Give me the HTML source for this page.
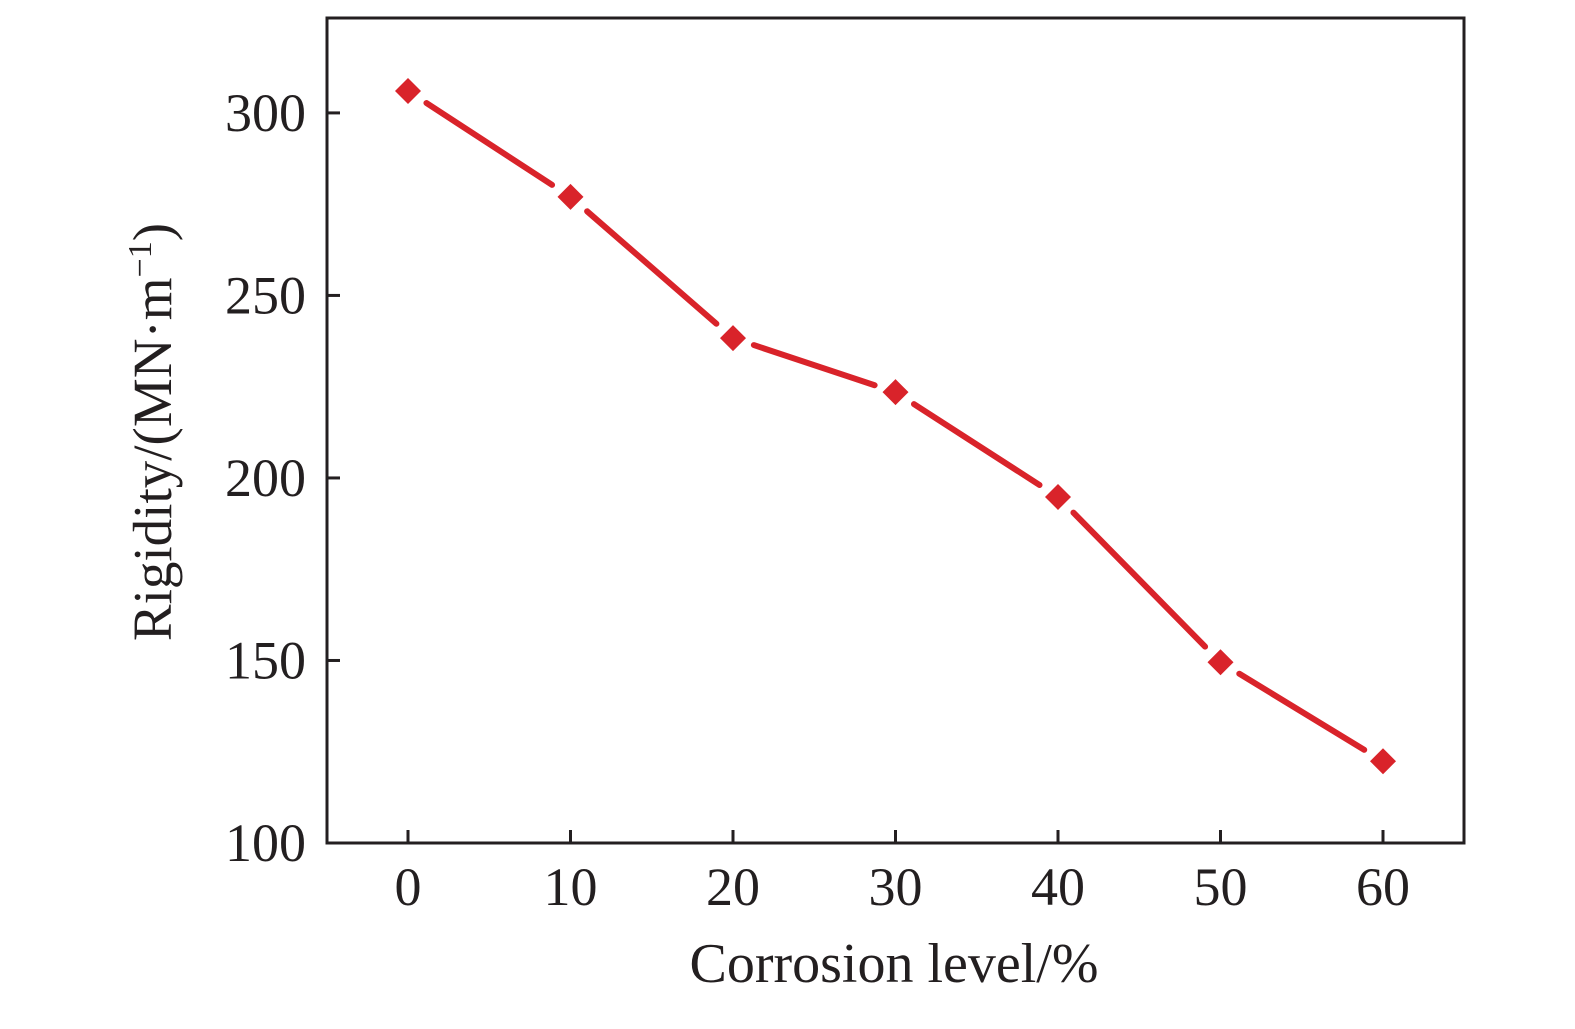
<!DOCTYPE html>
<html><head><meta charset="utf-8"><style>
html,body{margin:0;padding:0;background:#fff;}
svg text{font-family:"Liberation Serif",serif;fill:#231f20;}
</style></head><body>
<svg id="chart" width="1575" height="1024" viewBox="0 0 1575 1024" xmlns="http://www.w3.org/2000/svg">
<g id="grid"></g>
</svg>
<script>
const categories=[0,10,20,30,40,50,60];
const rigidity=[306,277,238.3,223.5,194.8,149.5,122.4];
const xTicks=[0,10,20,30,40,50,60];
const yTicks=[100,150,200,250,300];
const L=327,R=1464,T=18,B=843;
const yMin=100,yMax=326;
function xs(v){return 408+(v-0)*16.25;}
function ys(v){return B-(v-yMin)*(B-T)/(yMax-yMin);}
const NS='http://www.w3.org/2000/svg';
const svg=document.getElementById('chart');
function mk(t,a,p){const e=document.createElementNS(NS,t);for(const k in a)e.setAttribute(k,a[k]);(p||svg).appendChild(e);return e;}
const frame=mk('rect',{x:L,y:T,width:R-L,height:B-T,fill:'none',stroke:'#231f20','stroke-width':3});


xTicks.forEach(v=>{
 const t=mk('line',{x1:xs(v),x2:xs(v),y1:B,y2:B-13,stroke:'#231f20','stroke-width':3});
 
 
 const l=mk('text',{x:xs(v),y:B+62,'text-anchor':'middle','font-size':54});
 l.textContent=v;
 
 
});
yTicks.forEach(v=>{
 const t=mk('line',{x1:L,x2:L+13,y1:ys(v),y2:ys(v),stroke:'#231f20','stroke-width':3});
 
 
 const l=mk('text',{x:306,y:ys(v)+18,'text-anchor':'end','font-size':54});
 l.textContent=v;
 
 
});
const xt=mk('text',{x:894,y:982,'text-anchor':'middle','font-size':56});
xt.textContent='Corrosion level/%';


const yt=mk('text',{x:0,y:0,'text-anchor':'middle','font-size':55,transform:'translate(171,432) rotate(-90)'});
yt.innerHTML='Rigidity/(MN·m<tspan dy="-20" font-size="34">−1</tspan><tspan dy="20">)</tspan>';


const gap=22;
for(let i=0;i<categories.length-1;i++){
 const x1=xs(categories[i]),y1=ys(rigidity[i]),x2=xs(categories[i+1]),y2=ys(rigidity[i+1]);
 const d=Math.hypot(x2-x1,y2-y1),ux=(x2-x1)/d,uy=(y2-y1)/d;
 const s=mk('line',{x1:x1+ux*gap,y1:y1+uy*gap,x2:x2-ux*gap,y2:y2-uy*gap,stroke:'#d9232a','stroke-width':6,'stroke-linecap':'round'});
 
 
}
categories.forEach((c,i)=>{
 const x=xs(c),y=ys(rigidity[i]),r=13;
 const m=mk('polygon',{points:`${x},${y-r} ${x+r},${y} ${x},${y+r} ${x-r},${y}`,fill:'#d9232a'});
 
 
});
</script>
</body></html>
